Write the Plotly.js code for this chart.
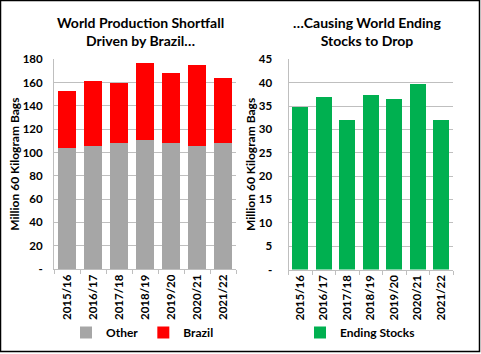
<!DOCTYPE html>
<html><head><meta charset="utf-8">
<script src="https://cdn.plot.ly/plotly-3.0.1.min.js"></script>
<style>html,body{margin:0;padding:0;background:#fff}#chart{width:481px;height:354px}</style>
</head><body><div id="chart"></div>
<script>
const years = ["2015/16","2016/17","2017/18","2018/19","2019/20","2020/21","2021/22"];
const other = [103.5,105.5,108,110.5,108,105.5,108];
const brazil = [49,55.5,51.5,66.5,60,69.5,56];
const endingStocks = [34.8,36.9,31.9,37.4,36.4,39.8,31.9];
const leftTicks = [0,20,40,60,80,100,120,140,160,180];
const leftTickText = ["-","20","40","60","80","100","120","140","160","180"];
const rightTicks = [0,5,10,15,20,25,30,35,40,45];
const rightTickText = ["-","5","10","15","20","25","30","35","40","45"];

const W=481,H=354;
const F="Lato, 'Open Sans', sans-serif";
const px=(x)=>x/W, py=(y)=>1-y/H;
const grid="#bfbfbf";
const bf=(s)=>({family:F,size:s,color:"#000",weight:700});

const traces=[
 {type:"bar",x:years,y:other,name:"Other",marker:{color:"#a6a6a6"},xaxis:"x",yaxis:"y",legend:"legend"},
 {type:"bar",x:years,y:brazil,name:"Brazil",marker:{color:"#ff0000"},xaxis:"x",yaxis:"y",legend:"legend"},
 {type:"bar",x:years,y:endingStocks,name:"Ending Stocks",marker:{color:"#00b050"},xaxis:"x2",yaxis:"y2",legend:"legend2"}
];
const xcommon={type:"category",tickangle:-90,showgrid:false,showline:true,linecolor:grid,linewidth:1,
  ticks:"outside",tickson:"boundaries",ticklen:4,tickcolor:grid,tickfont:bf(11.5),fixedrange:true};
const ycommon={showgrid:true,gridcolor:grid,gridwidth:1,showline:true,linecolor:grid,zeroline:false,ticks:"",
  tickfont:bf(11.5),fixedrange:true,
  title:{text:"Million 60 Kilogram Bags",font:bf(12),standoff:0}};
const layout={
 width:W,height:H,margin:{l:0,r:0,t:0,b:0},paper_bgcolor:"#fff",plot_bgcolor:"#fff",
 barmode:"stack",bargap:0.33,
 xaxis:Object.assign({},xcommon,{domain:[px(54),px(236)],anchor:"y"}),
 yaxis:Object.assign({},ycommon,{domain:[py(269),py(59.3)],range:[0,180],tickvals:leftTicks,ticktext:leftTickText,anchor:"x",ticklabelstandoff:8}),
 xaxis2:Object.assign({},xcommon,{domain:[px(288.5),px(453)],anchor:"y2"}),
 yaxis2:Object.assign({},ycommon,{domain:[py(269.5),py(59.3)],range:[0,45],tickvals:rightTicks,ticktext:rightTickText,anchor:"x2",ticklabelstandoff:13}),
 legend:{orientation:"h",traceorder:"normal",x:px(66),y:py(318),xanchor:"left",yanchor:"top",font:bf(12),itemwidth:30,bgcolor:"rgba(0,0,0,0)"},
 legend2:{orientation:"h",traceorder:"normal",x:px(300),y:py(318),xanchor:"left",yanchor:"top",font:bf(12),itemwidth:30,bgcolor:"rgba(0,0,0,0)"},
 annotations:[
  {text:"World Production Shortfall<br>Driven by Brazil…",xref:"paper",yref:"paper",x:px(140),y:py(12),xanchor:"center",yanchor:"top",showarrow:false,font:bf(14)},
  {text:"…Causing World Ending<br>Stocks to Drop",xref:"paper",yref:"paper",x:px(367),y:py(12),xanchor:"center",yanchor:"top",showarrow:false,font:bf(14)}
 ],
 shapes:[{type:"rect",xref:"paper",yref:"paper",x0:px(0.5),x1:px(479.5),y0:py(351.5),y1:py(0.5),line:{color:"#000",width:1.5}}],
 showlegend:true
};
Plotly.newPlot("chart",traces,layout,{displayModeBar:false,staticPlot:true});
</script></body></html>
